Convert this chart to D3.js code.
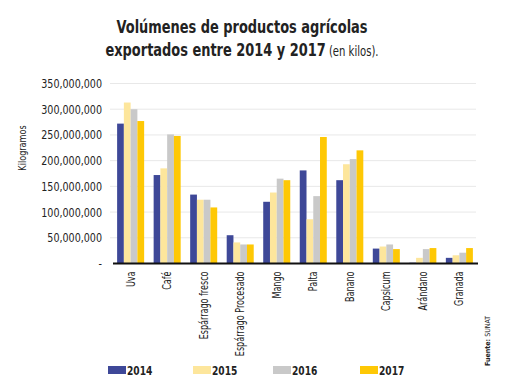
<html>
  <head>
    <meta charset="utf-8">
    <title>Volúmenes exportados</title>
    <script src="https://d3js.org/d3.v7.min.js"></script>
    <style>
      body { margin: 0; background: #fff; }
      svg text { font-family: 'DejaVu Sans Condensed', 'DejaVu Sans', sans-serif; fill: #222; }
    </style>
  </head>
  <body>
    <script>
      // datos (kilos)
      var categorias = ["Uva", "Café", "Espárrago fresco", "Espárrago Procesado", "Mango", "Palta", "Banano", "Capsicum", "Arándano", "Granada"];
      var anios = ["2014", "2015", "2016", "2017"];
      var v2014 = [272e6, 172e6, 134e6, 55e6, 120e6, 181e6, 162e6, 29e6, 1.5e6, 11e6];
      var v2015 = [313e6, 185e6, 124e6, 41e6, 138e6, 86e6, 193e6, 33e6, 11e6, 16e6];
      var v2016 = [300e6, 251e6, 124e6, 37e6, 165e6, 131e6, 203e6, 37e6, 28e6, 21e6];
      var v2017 = [277e6, 248e6, 109e6, 37e6, 162e6, 246e6, 220e6, 28e6, 30e6, 30e6];
      var yTicks = [0, 50e6, 100e6, 150e6, 200e6, 250e6, 300e6, 350e6];
      var colores = ["#3e4898", "#fde69c", "#c9c9c9", "#fec805"];

      var series = [v2014, v2015, v2016, v2017];
      var width = 506, height = 389;

      var svg = d3.select("body").append("svg")
        .attr("width", width)
        .attr("height", height);

      // titulo (fuente angosta -> escalado horizontal)
      var t = svg.append("text").attr("text-anchor", "middle")
        .attr("transform", "translate(242,0) scale(0.8,1)");
      t.append("tspan").attr("x", 0).attr("y", 33)
        .attr("font-size", 18).attr("font-weight", "bold")
        .text("Volúmenes de productos agrícolas");
      var t2 = t.append("tspan").attr("x", 0).attr("y", 56);
      t2.append("tspan").attr("font-size", 18).attr("font-weight", "bold").text("exportados entre 2014 y 2017");
      t2.append("tspan").attr("font-size", 14).text(" (en kilos).");

      var x0 = d3.scaleBand()
        .domain(categorias)
        .range([112, 478])
        .paddingInner(0.26)
        .paddingOuter(0.14);

      var x1 = d3.scaleBand()
        .domain(anios)
        .range([0, x0.bandwidth()]);

      var y = d3.scaleLinear()
        .domain([0, 350e6])
        .range([263.5, 83.5]);

      // lineas de grilla
      svg.append("g").selectAll("line")
        .data(yTicks.slice(1))
        .enter().append("line")
        .attr("x1", 110).attr("x2", 476)
        .attr("y1", function(d) { return y(d); })
        .attr("y2", function(d) { return y(d); })
        .attr("stroke", "#e8e8e8")
        .attr("stroke-width", 1);

      // eje y
      var yAxis = svg.append("g")
        .attr("transform", "translate(102,0) scale(0.85,1)")
        .call(d3.axisLeft(y).tickValues(yTicks).tickSize(0).tickPadding(0)
          .tickFormat(function(d) { return d === 0 ? "-" : d3.format(",")(d); }));
      yAxis.select(".domain").remove();
      yAxis.selectAll("text").attr("font-size", 12.5).attr("fill", "#222");

      svg.append("text")
        .attr("transform", "translate(26,148) rotate(-90) scale(0.82,1)")
        .attr("text-anchor", "middle")
        .attr("font-size", 11)
        .text("Kilogramos");

      // barras
      var grupos = svg.append("g").selectAll("g")
        .data(categorias)
        .enter().append("g")
        .attr("transform", function(d) { return "translate(" + x0(d) + ",0)"; });

      grupos.selectAll("rect")
        .data(function(d, i) {
          return anios.map(function(a, j) { return { anio: a, valor: series[j][i], j: j }; });
        })
        .enter().append("rect")
        .attr("x", function(d) { return x1(d.anio); })
        .attr("width", x1.bandwidth())
        .attr("y", function(d) { return y(d.valor); })
        .attr("height", function(d) { return y(0) - y(d.valor); })
        .attr("fill", function(d) { return colores[d.j]; });

      // eje x
      var xAxis = svg.append("g")
        .attr("transform", "translate(0," + y(0) + ")")
        .call(d3.axisBottom(x0).tickSize(0).tickPadding(0));
      xAxis.select(".domain").attr("stroke", "#111").attr("stroke-width", 2)
        .attr("d", "M113,0H478");
      xAxis.selectAll("text")
        .attr("font-size", 11.5)
        .attr("text-anchor", "end")
        .attr("dy", "0.35em")
        .attr("transform", "translate(0,8) rotate(-90) scale(0.78,1)")
        .attr("x", 0).attr("y", 0);

      // leyenda
      var legX = [108, 193, 273, 360];
      var leg = svg.append("g").selectAll("g")
        .data(anios)
        .enter().append("g")
        .attr("transform", function(d, i) { return "translate(" + legX[i] + ",366)"; });
      leg.append("rect").attr("width", 18).attr("height", 8)
        .attr("fill", function(d, i) { return colores[i]; });
      leg.append("text")
        .attr("transform", "translate(19,9) scale(0.78,1)")
        .attr("font-size", 13).attr("font-weight", "bold")
        .text(function(d) { return d; });

      // fuente
      var f = svg.append("text")
        .attr("transform", "translate(490,366) rotate(-90)")
        .attr("font-size", 7);
      f.append("tspan").attr("font-weight", "bold").text("Fuente: ");
      f.append("tspan").text("SUNAT");
    </script>
  </body>
</html>
